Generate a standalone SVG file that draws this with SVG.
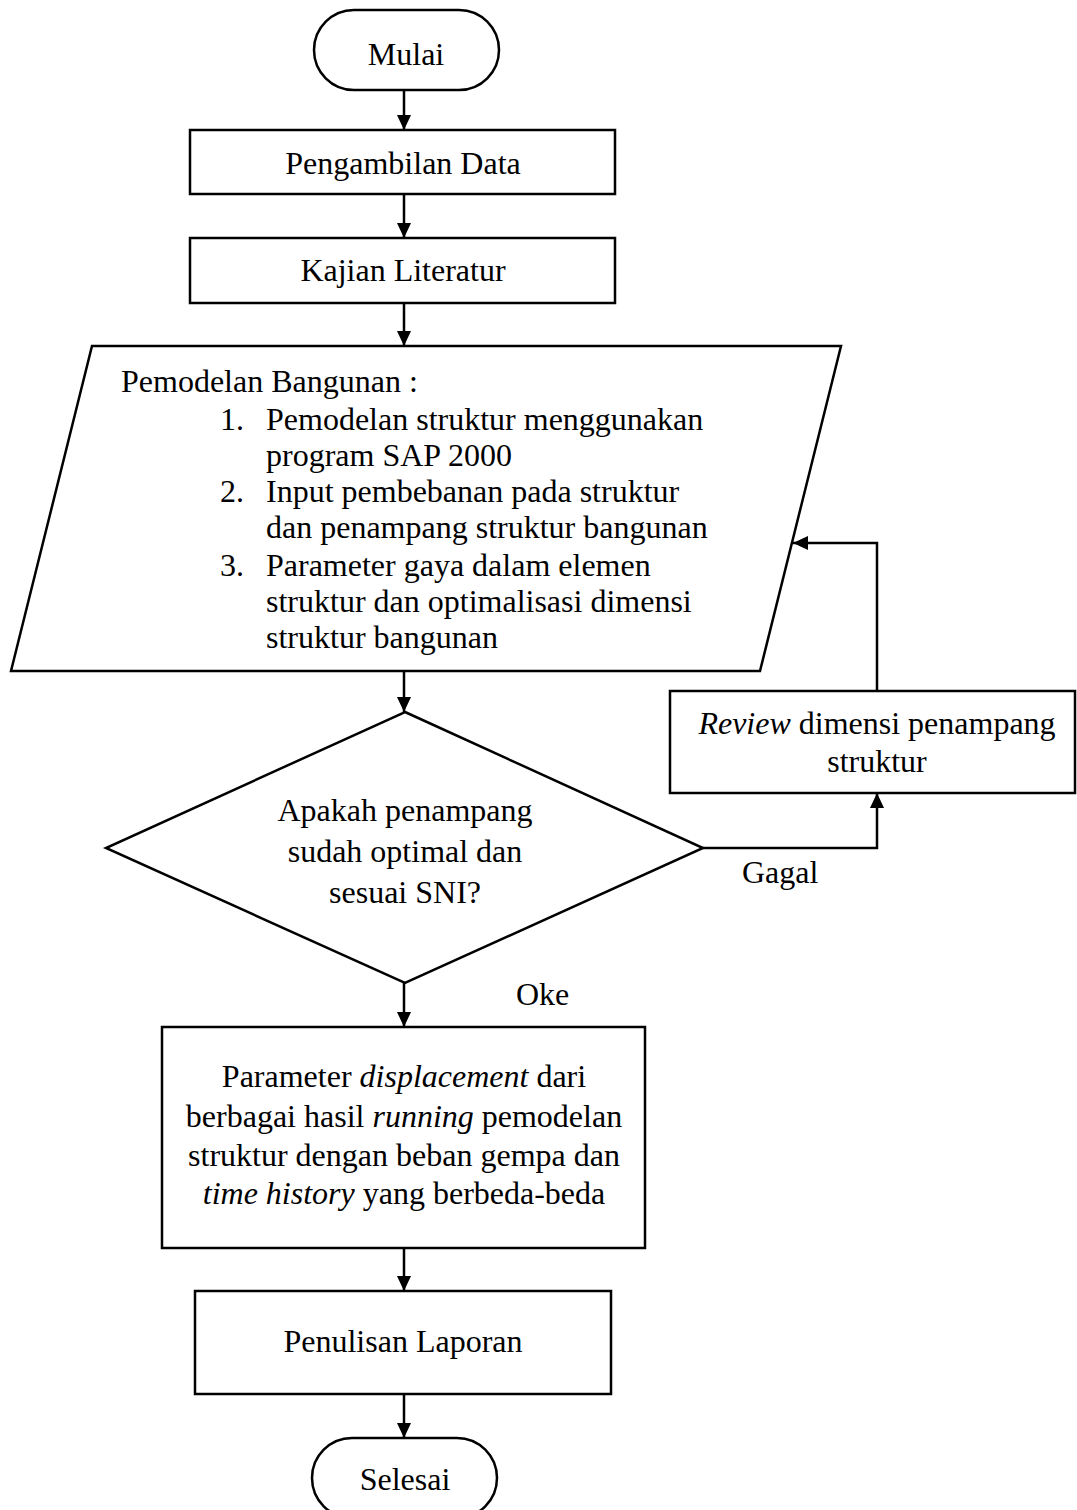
<svg xmlns="http://www.w3.org/2000/svg" width="1077" height="1510" viewBox="0 0 1077 1510">
<style>
.shape{fill:#fff;stroke:#000;stroke-width:2.5}
.conn{fill:none;stroke:#000;stroke-width:2.5}
text{font-family:"Liberation Serif","Times New Roman",serif;font-size:32px;fill:#000}
.c{text-anchor:middle}
.i{font-style:italic}
</style>
<defs>
<marker id="arr" markerUnits="userSpaceOnUse" markerWidth="16" markerHeight="14" refX="15" refY="7" orient="auto">
<path d="M0,0 L15,7 L0,14 z" fill="#000"/>
</marker>
</defs>
<rect width="1077" height="1510" fill="#fff"/>
<g id="connectors">
<line class="conn" x1="404" y1="90" x2="404" y2="130" marker-end="url(#arr)"/>
<line class="conn" x1="404" y1="194" x2="404" y2="238" marker-end="url(#arr)"/>
<line class="conn" x1="404" y1="303" x2="404" y2="346" marker-end="url(#arr)"/>
<line class="conn" x1="404" y1="671" x2="404" y2="712" marker-end="url(#arr)"/>
<line class="conn" x1="404" y1="983" x2="404" y2="1027" marker-end="url(#arr)"/>
<line class="conn" x1="404" y1="1248" x2="404" y2="1291" marker-end="url(#arr)"/>
<line class="conn" x1="404" y1="1394" x2="404" y2="1438" marker-end="url(#arr)"/>
<path class="conn" d="M703,848 H877 V793" marker-end="url(#arr)"/>
<path class="conn" d="M877,691 V543 H793" marker-end="url(#arr)"/>
<text x="742" y="883">Gagal</text>
<text x="516" y="1005">Oke</text>
</g>
<g id="mulai">
<rect class="shape" x="314" y="10" width="185" height="80" rx="40" ry="40"/>
<text class="c" x="406" y="65">Mulai</text>
</g>
<g id="pengambilan">
<rect class="shape" x="190" y="130" width="425" height="64"/>
<text class="c" x="403" y="174">Pengambilan Data</text>
</g>
<g id="kajian">
<rect class="shape" x="190" y="238" width="425" height="65"/>
<text class="c" x="403" y="281">Kajian Literatur</text>
</g>
<g id="pemodelan">
<polygon class="shape" points="92,346 841,346 760,671 11,671"/>
<text x="121" y="392">Pemodelan Bangunan :</text>
<text x="220" y="430">1.</text>
<text x="266" y="430">Pemodelan struktur menggunakan</text>
<text x="266" y="466">program SAP 2000</text>
<text x="220" y="502">2.</text>
<text x="266" y="502">Input pembebanan pada struktur</text>
<text x="266" y="538">dan penampang struktur bangunan</text>
<text x="220" y="576">3.</text>
<text x="266" y="576">Parameter gaya dalam elemen</text>
<text x="266" y="612">struktur dan optimalisasi dimensi</text>
<text x="266" y="648">struktur bangunan</text>
</g>
<g id="keputusan">
<polygon class="shape" points="405,712 703,848 405,983 106,848"/>
<text class="c" x="405" y="821">Apakah penampang</text>
<text class="c" x="405" y="862">sudah optimal dan</text>
<text class="c" x="405" y="903">sesuai SNI?</text>
</g>
<g id="review">
<rect class="shape" x="670" y="691" width="405" height="102"/>
<text class="c" x="877" y="734"><tspan class="i">Review</tspan> dimensi penampang</text>
<text class="c" x="877" y="772">struktur</text>
</g>
<g id="displacement">
<rect class="shape" x="162" y="1027" width="483" height="221"/>
<text class="c" x="404" y="1087">Parameter <tspan class="i">displacement</tspan> dari</text>
<text class="c" x="404" y="1127">berbagai hasil <tspan class="i">running</tspan> pemodelan</text>
<text class="c" x="404" y="1166">struktur dengan beban gempa dan</text>
<text class="c" x="404" y="1204"><tspan class="i">time history</tspan> yang berbeda-beda</text>
</g>
<g id="penulisan">
<rect class="shape" x="195" y="1291" width="416" height="103"/>
<text class="c" x="403" y="1352">Penulisan Laporan</text>
</g>
<g id="selesai">
<rect class="shape" x="312" y="1438" width="185" height="80" rx="40" ry="40"/>
<text class="c" x="405" y="1490">Selesai</text>
</g>
</svg>
